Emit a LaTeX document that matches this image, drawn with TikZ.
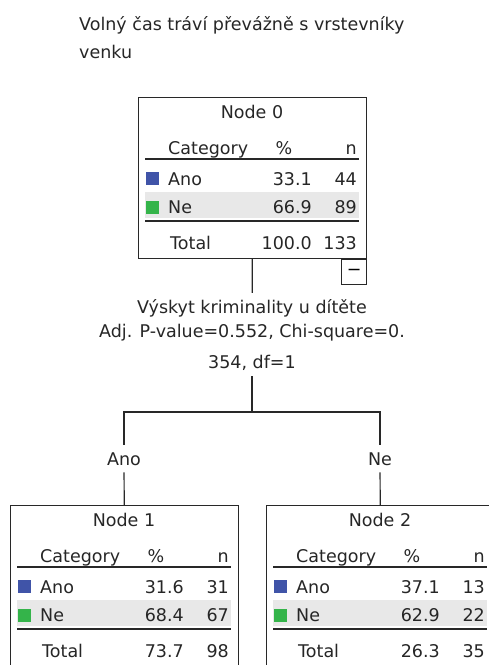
\documentclass[tikz,border=0pt]{standalone}
\usepackage{fontspec}
\setmainfont{DejaVu Sans}
\usepackage{xcolor}
\usetikzlibrary{positioning}
\definecolor{catBlue}{RGB}{64,84,168}
\definecolor{catGreen}{RGB}{52,180,74}
\definecolor{rowGray}{RGB}{232,232,232}
\definecolor{boxLine}{RGB}{40,40,40}

% one node of the tree: name, top left, title, Ano %, Ano n, Ne %, Ne n, total %, total n
\newcommand{\ctnode}[9]{%
  \node[nodebox] (#1) at (#2) {};
  \begin{scope}[shift={(#1.north west)}]
    \fill[rowGray] (7,95) rectangle (221,121);
    \node[txt, anchor=base] at (114,21) {#3};
    \node[txt, anchor=base west] at (30,57) {Category};
    \node[txt, anchor=base] at (146,57) {\%};
    \node[txt, anchor=base east] at (219,57) {n};
    \draw[rule] (7,62) -- (221,62);
    \fill[catBlue] (8,75) rectangle (21,88);
    \node[txt, anchor=base west] at (30,88) {Ano};
    \node[txt, anchor=base east] at (174,88) {#4};
    \node[txt, anchor=base east] at (219,88) {#5};
    \fill[catGreen] (8,104) rectangle (21,117);
    \node[txt, anchor=base west] at (30,116) {Ne};
    \node[txt, anchor=base east] at (174,116) {#6};
    \node[txt, anchor=base east] at (219,116) {#7};
    \draw[rule] (7,124) -- (221,124);
    \node[txt, anchor=base west] at (32,152) {Total};
    \node[txt, anchor=base east] at (174,152) {#8};
    \node[txt, anchor=base east] at (219,152) {#9};
  \end{scope}}

\begin{document}
\begin{tikzpicture}[x=1pt, y=-1pt,
  txt/.style={inner sep=0pt, font=\fontsize{17.5}{21}\selectfont, text=black!85},
  nodebox/.style={draw=boxLine, line width=1.2pt, anchor=north west,
    minimum width=228pt, minimum height=161pt, inner sep=0pt},
  togbox/.style={draw=boxLine, line width=1.2pt, minimum width=25pt,
    minimum height=25pt, inner sep=0pt, font=\fontsize{17.5}{21}\selectfont},
  rule/.style={draw=boxLine, line width=1.6pt},
  conn/.style={draw=boxLine, line width=1.2pt}]
\useasboundingbox (0,0) rectangle (489,665);
\clip (0,0) rectangle (489,665);

% multi-line texts sit on the baseline of their last line
\node[txt, anchor=base west, align=left] (ttl) at (79,58)
  {Volný čas tráví převážně s vrstevníky\\[7pt]venku};

\ctnode{n0}{138,97}{Node 0}{33.1}{44}{66.9}{89}{100.0}{133}
\node[togbox, anchor=north east] (tg) at (n0.south east) {−};

\node[txt, align=center, anchor=base, inner ysep=6pt,
  font=\fontsize{17.5}{24}\selectfont] (split) at (252,368)
  {Výskyt kriminality u dítěte\\Adj. P-value=0.552, Chi-square=0.\\[7pt]354, df=1};
\coordinate (fork) at (252,412);

\node[txt, anchor=base, inner ysep=7pt] (lano) at (124,465) {Ano};
\node[txt, anchor=base, inner ysep=7pt] (lne) at (380,465) {Ne};

\ctnode{n1}{10,505}{Node 1}{31.6}{31}{68.4}{67}{73.7}{98}
\ctnode{n2}{266,505}{Node 2}{37.1}{13}{62.9}{22}{26.3}{35}

\draw[conn] (n0) -- (split);
\draw[conn] (split) -- (fork);
\draw[conn] (fork) -| (lano);
\draw[conn] (fork) -| (lne);
\draw[conn] (lano) -- (n1);
\draw[conn] (lne) -- (n2);
\end{tikzpicture}
\end{document}
